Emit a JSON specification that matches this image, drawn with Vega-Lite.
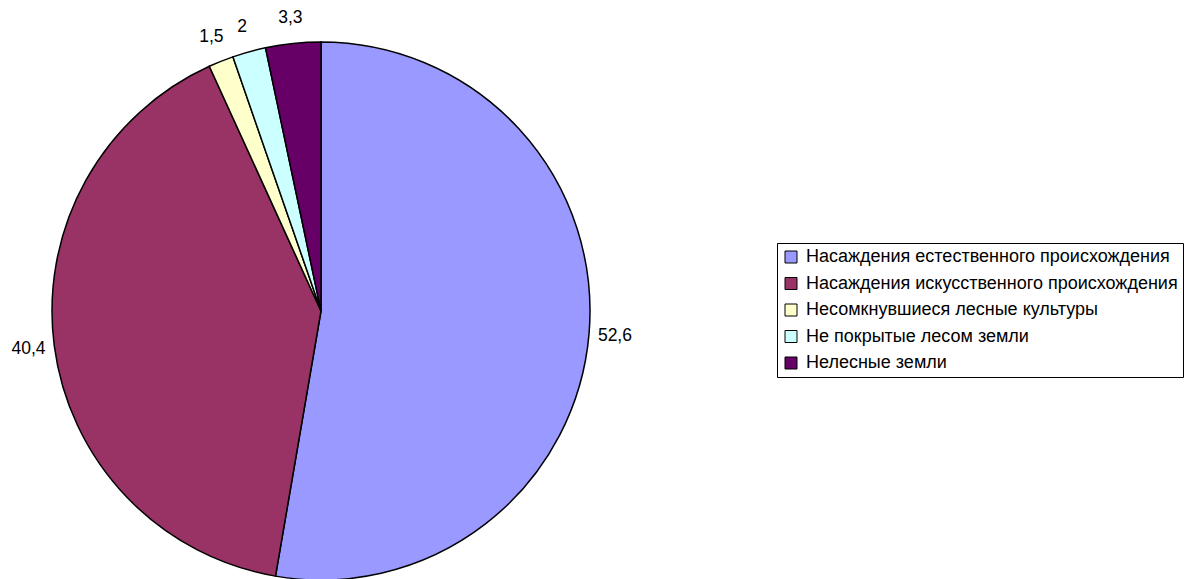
{
  "$schema": "https://vega.github.io/schema/vega-lite/v6.json",
  "width": 642,
  "height": 622,
  "padding": 0,
  "autosize": {"type": "pad"},
  "background": "white",
  "config": {
    "view": {"stroke": null},
    "font": "Liberation Sans",
    "locale": {"number": {"decimal": ",", "thousands": " ", "grouping": [3], "currency": ["", ""]}}
  },
  "data": {
    "values": [
      {"idx": 1, "category": "Насаждения естественного происхождения", "value": 52.6},
      {"idx": 2, "category": "Насаждения искусственного происхождения", "value": 40.4},
      {"idx": 3, "category": "Несомкнувшиеся лесные культуры", "value": 1.5},
      {"idx": 4, "category": "Не покрытые лесом земли", "value": 2},
      {"idx": 5, "category": "Нелесные земли", "value": 3.3}
    ]
  },
  "encoding": {
    "theta": {"field": "value", "type": "quantitative", "stack": true},
    "order": {"field": "idx", "type": "quantitative"}
  },
  "layer": [
    {
      "mark": {"type": "arc", "outerRadius": 269, "stroke": "black", "strokeWidth": 1.5},
      "encoding": {
        "color": {
          "field": "category",
          "type": "nominal",
          "scale": {
            "domain": [
              "Насаждения естественного происхождения",
              "Насаждения искусственного происхождения",
              "Несомкнувшиеся лесные культуры",
              "Не покрытые лесом земли",
              "Нелесные земли"
            ],
            "range": ["#9999FF", "#993366", "#FFFFCC", "#CCFFFF", "#660066"]
          },
          "legend": {
            "title": null,
            "orient": "none",
            "legendX": 777,
            "legendY": 243,
            "strokeColor": "black",
            "fillColor": "white",
            "padding": 5,
            "rowPadding": 8.5,
            "labelFontSize": 18,
            "labelColor": "black",
            "labelFont": "Liberation Sans",
            "labelLimit": 600,
            "labelOffset": 6,
            "symbolType": "square",
            "symbolSize": 144,
            "symbolStrokeColor": "black",
            "symbolStrokeWidth": 1
          }
        }
      }
    },
    {
      "mark": {"type": "text", "radius": 295, "fontSize": 17.5, "font": "Liberation Sans", "color": "black"},
      "encoding": {
        "text": {"field": "value", "type": "quantitative", "format": "~g"}
      }
    }
  ]
}
